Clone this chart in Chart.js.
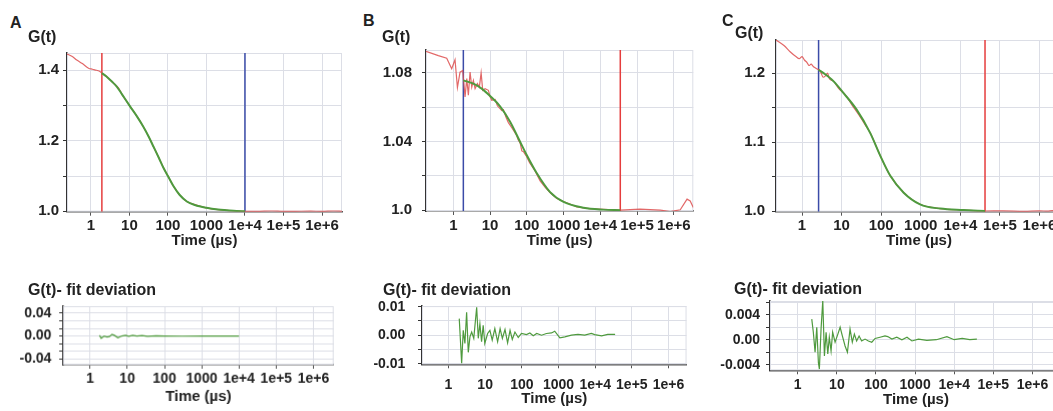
<!DOCTYPE html>
<html>
<head>
<meta charset="utf-8">
<script src="https://cdn.jsdelivr.net/npm/chart.js@4.4.1/dist/chart.umd.min.js"></script>
<style>
  html, body { margin: 0; padding: 0; background: #fff; }
  body { width: 1053px; height: 411px; overflow: hidden; position: relative;
         font-family: 'Liberation Sans', Arial, sans-serif; color: #222; }
  .box { position: absolute; }
  .lbl { position: absolute; font-weight: bold; line-height: 1; white-space: nowrap; z-index: 2; font-size: 16px; }
</style>
</head>
<body>
<div class="lbl" style="left:10px;top:14.7px">A</div>
<div class="lbl" style="left:28px;top:29px">G(t)</div>
<div class="lbl" style="left:363px;top:13px">B</div>
<div class="lbl" style="left:382px;top:29px">G(t)</div>
<div class="lbl" style="left:722px;top:13px">C</div>
<div class="lbl" style="left:735px;top:24.6px">G(t)</div>
<div class="lbl" style="left:28px;top:282px">G(t)- fit deviation</div>
<div class="lbl" style="left:383px;top:282px">G(t)- fit deviation</div>
<div class="lbl" style="left:734px;top:281px">G(t)- fit deviation</div>

<div class="box" style="left:16.7px;top:33px;width:331px;height:217px"><canvas id="mainA"></canvas></div>
<div class="box" style="left:376px;top:30px;width:323.3px;height:220px"><canvas id="mainB"></canvas></div>
<div class="box" style="left:726px;top:20px;width:342px;height:230px"><canvas id="mainC"></canvas></div>
<div class="box" style="left:13.3px;top:286px;width:325.7px;height:118.5px"><canvas id="resA"></canvas></div>
<div class="box" style="left:371.7px;top:285px;width:321px;height:123px"><canvas id="resB"></canvas></div>
<div class="box" style="left:720px;top:280.7px;width:348px;height:127.8px"><canvas id="resC"></canvas></div>

<script>
// shared time axis (µs, log)
const X_TICKS = [1, 10, 100, 1000, 1e4, 1e5, 1e6];
const X_LABELS = ['1', '10', '100', '1000', '1e+4', '1e+5', '1e+6'];

// ---- panel A ----
const A_DATA_T = [0.24, 0.33, 0.43, 0.6, 0.87, 1.1, 1.4, 1.75, 1.93, 2.5, 3.5, 4.7, 5.3, 6.5, 10.5, 16, 23, 32, 42, 58, 77, 105, 140, 200, 310, 500, 1000, 2000, 3400, 1e4, 2e4, 5e4, 1e5, 2e5, 5e5, 1e6, 2e6, 3.3e6];
const A_DATA_G = [1.446, 1.439, 1.429, 1.419, 1.406, 1.403, 1.400, 1.396, 1.392, 1.383, 1.368, 1.355, 1.349, 1.331, 1.297, 1.268, 1.240, 1.211, 1.184, 1.152, 1.123, 1.096, 1.071, 1.047, 1.028, 1.019, 1.010, 1.005, 1.003, 1.000, 1.000, 1.001, 0.9998, 1.000, 1.0005, 1.000, 1.001, 1.000];
const A_FIT_T = [1.93, 2.5, 3.5, 4.7, 6.5, 10.5, 16, 23, 32, 42, 58, 77, 105, 140, 200, 310, 500, 1000, 2000, 3400, 6000, 1e4];
const A_FIT_G = [1.392, 1.383, 1.368, 1.354, 1.331, 1.297, 1.268, 1.240, 1.211, 1.184, 1.152, 1.123, 1.096, 1.071, 1.047, 1.028, 1.018, 1.010, 1.005, 1.003, 1.001, 1.000];
const A_CURSOR_RED = 1.93;
const A_CURSOR_BLUE = 1e4;
const A_Y_TICKS = [1.0, 1.1, 1.2, 1.3, 1.4];
const A_Y_LABELS = ['1.0', '', '1.2', '', '1.4'];

// ---- panel B ----
const B_DATA_T = [0.18, 0.39, 0.66, 0.9, 1.11, 1.29, 1.52, 1.8, 2.08, 2.32, 2.56, 2.85, 3.17, 3.51, 3.9, 4.5, 5.1, 5.7, 6.3, 7.3, 9.0, 10, 11.1, 13.7, 15.8, 20.8, 23, 27.3, 31.5, 39, 53, 58, 66, 73, 81, 95, 120, 168, 230, 320, 450, 656, 1000, 2300, 5000, 1.2e4, 3.5e4, 1.2e5, 4.3e5, 8e5, 1.5e6, 2.3e6, 2.8e6, 3.4e6];
const B_DATA_G = [1.0925, 1.0900, 1.0885, 1.0824, 1.0876, 1.0714, 1.0804, 1.0814, 1.0660, 1.0766, 1.0670, 1.0804, 1.0717, 1.0756, 1.0708, 1.0737, 1.0717, 1.0800, 1.0698, 1.0708, 1.0698, 1.0660, 1.0640, 1.0645, 1.0608, 1.0580, 1.0585, 1.0540, 1.0510, 1.0480, 1.0435, 1.0410, 1.0390, 1.0345, 1.0340, 1.0318, 1.0275, 1.0228, 1.0170, 1.0132, 1.0098, 1.0068, 1.0050, 1.0019, 1.0009, 1.0005, 1.0000, 1.0006, 1.0000, 0.9992, 1.0002, 1.0064, 1.0054, 1.0016];
const B_FIT_T = [1.87, 3.5, 5.9, 10, 18.7, 35, 65, 100, 187, 430, 1000, 3500, 1.2e4, 3.5e4];
const B_FIT_G = [1.0756, 1.0737, 1.0708, 1.0665, 1.0605, 1.0515, 1.0400, 1.0320, 1.0215, 1.0105, 1.0048, 1.0014, 1.0003, 1.0000];
const B_CURSOR_BLUE = 1.87;
const B_CURSOR_RED = 3.5e4;
const B_Y_TICKS = [1.0, 1.02, 1.04, 1.06, 1.08];
const B_Y_LABELS = ['1.0', '', '1.04', '', '1.08'];

// ---- panel C ----
const C_DATA_T = [0.22, 0.35, 0.5, 0.7, 0.85, 1.0, 1.15, 1.35, 1.5, 1.7, 1.9, 2.1, 2.4, 2.62, 3.0, 3.4, 3.9, 4.4, 4.9, 6.3, 8.4, 12.4, 18.2, 26.8, 39.5, 53, 95, 170, 370, 960, 3100, 1.2e4, 4.2e4, 1.2e5, 4e5, 1e6, 1.6e6, 2.1e6, 3e6];
const C_DATA_G = [1.248, 1.240, 1.231, 1.224, 1.221, 1.224, 1.219, 1.215, 1.211, 1.213, 1.210, 1.208, 1.206, 1.205, 1.201, 1.194, 1.196, 1.200, 1.192, 1.188, 1.178, 1.1686, 1.154, 1.140, 1.125, 1.113, 1.080, 1.051, 1.0266, 1.0097, 1.0035, 1.0014, 1.000, 1.0003, 0.9996, 1.0003, 0.9998, 1.0005, 1.000];
const C_FIT_T = [2.62, 3.5, 6.3, 11.2, 24, 53, 95, 170, 370, 960, 3100, 1.2e4, 4.2e4];
const C_FIT_G = [1.2048, 1.200, 1.188, 1.171, 1.147, 1.113, 1.080, 1.051, 1.0266, 1.0097, 1.0035, 1.0014, 1.000];
const C_CURSOR_BLUE = 2.62;
const C_CURSOR_RED = 4.2e4;
const C_Y_TICKS = [1.0, 1.05, 1.1, 1.15, 1.2];
const C_Y_LABELS = ['1.0', '', '1.1', '', '1.2'];

// ---- fit deviations ----
const RA_T = [1.8, 2.0, 2.4, 2.9, 3.4, 3.9, 4.5, 5.6, 7.1, 9, 11, 14, 18, 25, 35, 60, 100, 300, 1000, 3000, 1e4];
const RA_V = [0.0012, -0.004, 0, -0.0017, -0.0005, 0.003, 0.0012, -0.0029, 0, 0.0012, -0.0006, 0.0012, 0, 0.0008, -0.0004, 0.0002, 0, -0.0003, 0, 0, 0];
const RA_Y_TICKS = [-0.04, -0.0267, -0.0133, 0, 0.0133, 0.0267, 0.04];
const RA_Y_LABELS = ['-0.04', '', '', '0.00', '', '', '0.04'];

const RB_T = [1.97, 2.29, 2.53, 2.81, 3.13, 3.47, 3.85, 4.3, 4.9, 5.88, 6.5, 7.2, 8.0, 8.85, 9.8, 11.7, 13.5, 15.6, 18.4, 21.9, 25.6, 29.5, 34.8, 41, 47.8, 55, 65, 80, 98, 134, 166, 205, 255, 345, 470, 645, 790, 1090, 1490, 2260, 3400, 5180, 7890, 9700, 1.5e4, 2.2e4, 3.5e4];
const RB_V = [0.0058, -0.0098, 0.0017, -0.0029, 0.0080, -0.0060, -0.0006, 0.0011, -0.0011, 0.0098, -0.0011, 0.0040, -0.0023, 0.0035, -0.0029, 0.0006, 0.0017, -0.0017, 0.0023, -0.0023, 0.0023, -0.0011, 0.0020, -0.0027, 0.0017, -0.0015, 0.0011, -0.0008, 0.0006, 0.0002, 0.0008, -0.0002, 0.0006, 0, 0.0006, 0.0008, 0.0014, -0.0009, -0.0006, 0, 0.0003, 0, 0.0006, 0.0002, -0.0002, 0.0003, 0.0003];
const RB_Y_TICKS = [-0.01, -0.005, 0, 0.005, 0.01];
const RB_Y_LABELS = ['-0.01', '', '0.00', '', '0.01'];

const RC_T = [2.28, 2.5, 2.77, 3.06, 3.37, 3.57, 3.94, 4.36, 4.8, 5.3, 5.85, 6.4, 7.1, 7.8, 9, 10.6, 12.1, 13.8, 16.2, 18.6, 21.7, 24.8, 28, 32, 37, 43, 52.5, 64, 78, 95, 127, 170, 200, 255, 340, 460, 620, 830, 1220, 2000, 3500, 6500, 1e4, 1.6e4, 2.5e4, 3.8e4];
const RC_V = [0.0033, 0.0012, -0.0020, 0.0020, -0.0037, -0.0047, 0.0017, 0.0063, -0.0026, 0.0012, -0.0023, 0.0004, -0.0018, 0.0012, -0.0004, 0.0009, 0.0020, 0.0006, -0.0010, -0.0020, 0.0017, -0.0004, 0.0009, -0.0002, 0.0006, -0.0002, 0.0001, -0.0002, -0.0004, 0.0002, 0.0004, 0.0006, 0.0005, 0.0001, 0.0004, 0, 0.0004, -0.0002, 0.0001, -0.0001, 0, 0.0005, 0, 0.0002, 0, 0.0001];
const RC_Y_TICKS = [-0.004, -0.002, 0, 0.002, 0.004, 0.006];
const RC_Y_LABELS = ['-0.004', '', '0.00', '', '0.004', ''];

// ---- styling ----
const RED_DATA = 'rgba(221,78,78,0.85)';
const GREEN = '#4f9a3e';
const BLUE = '#3b4ba8';
const RED_CURSOR = '#e53d3d';
const GRID = '#dcdee6';
const INK = '#222';
Chart.defaults.font.family = "'Liberation Sans', Arial, sans-serif";
Chart.defaults.color = INK;

const pts = (t, v) => t.map((x, i) => ({ x, y: v[i] }));

// light frame on top/right, like the original plot box
const frame = {
  id: 'frame',
  beforeDatasetsDraw(chart) {
    const a = chart.chartArea, c = chart.ctx;
    c.save();
    c.strokeStyle = GRID;
    c.lineWidth = 1;
    c.strokeRect(a.left + 0.5, a.top + 0.5, a.right - a.left - 1, a.bottom - a.top - 1);
    c.restore();
  }
};

function plot(id, o) {
  new Chart(document.getElementById(id), {
    type: 'line',
    data: { datasets: o.datasets },
    options: {
      responsive: true,
      maintainAspectRatio: false,
      animation: false,
      layout: { padding: { top: 20, right: 6, left: 0, bottom: 0 } },
      plugins: { legend: { display: false }, tooltip: { enabled: false } },
      elements: { point: { radius: 0 } },
      scales: {
        x: {
          type: 'logarithmic',
          min: o.xMin, max: o.xMax,
          afterBuildTicks: (s) => { s.ticks = X_TICKS.map(v => ({ value: v })); },
          afterFit: (s) => { s.height = o.xH; },
          ticks: {
            autoSkip: false, maxRotation: 0, padding: o.xPad, color: INK,
            font: { size: o.fs, weight: 'bold' },
            callback: (v, i) => X_LABELS[i],
          },
          grid: { color: GRID, tickColor: '#555', tickLength: 4 },
          border: { color: '#555', width: 1.5 },
          title: { display: true, text: 'Time (µs)', padding: 0, color: INK, font: { size: 15, weight: 'bold' } },
        },
        y: {
          min: o.yMin, max: o.yMax,
          afterBuildTicks: (s) => { s.ticks = o.yTicks.map(v => ({ value: v })); },
          afterFit: (s) => { s.width = 50; },
          ticks: {
            autoSkip: false, padding: o.yPad, color: INK,
            font: { size: o.fs, weight: 'bold' },
            callback: (v, i) => o.yLabels[i],
          },
          grid: { color: GRID, tickColor: '#333', tickLength: 4 },
          border: { color: '#333', width: 1.5 },
        },
      },
    },
    plugins: [frame],
  });
}

function mainSets(dataT, dataG, fitT, fitG, cursors, yMin, yMax, smooth) {
  return [
    { data: pts(fitT, fitG), borderColor: GREEN, borderWidth: 2, cubicInterpolationMode: 'monotone' },
    { data: pts(dataT, dataG), borderColor: RED_DATA, borderWidth: 1.2,
      cubicInterpolationMode: smooth ? 'monotone' : 'default', tension: 0 },
    ...cursors.map(c => ({ data: pts([c.t, c.t], [yMin, yMax]), borderColor: c.color, borderWidth: 1.5 })),
  ];
}

function resSets(t, v) {
  return [{ data: pts(t, v), borderColor: GREEN, borderWidth: 1.2, tension: 0 }];
}

// ---- main correlation plots ----
plot('mainA', {
  xMin: 0.24, xMax: 3.3e6, yMin: 0.999, yMax: 1.449,
  yTicks: A_Y_TICKS, yLabels: A_Y_LABELS, fs: 15, xH: 38.3, xPad: 1, yPad: 4,
  datasets: mainSets(A_DATA_T, A_DATA_G, A_FIT_T, A_FIT_G,
    [{ t: A_CURSOR_RED, color: RED_CURSOR }, { t: A_CURSOR_BLUE, color: BLUE }], 0.999, 1.449, true),
});
plot('mainB', {
  xMin: 0.18, xMax: 3.4e6, yMin: 0.9995, yMax: 1.0933,
  yTicks: B_Y_TICKS, yLabels: B_Y_LABELS, fs: 15, xH: 39, xPad: 1.7, yPad: 10,
  datasets: mainSets(B_DATA_T, B_DATA_G, B_FIT_T, B_FIT_G,
    [{ t: B_CURSOR_BLUE, color: BLUE }, { t: B_CURSOR_RED, color: RED_CURSOR }], 0.9995, 1.0933, false),
});
plot('mainC', {
  xMin: 0.22, xMax: 3.7e6, yMin: 0.999, yMax: 1.248,
  yTicks: C_Y_TICKS, yLabels: C_Y_LABELS, fs: 15, xH: 38.3, xPad: 1, yPad: 7,
  datasets: mainSets(C_DATA_T, C_DATA_G, C_FIT_T, C_FIT_G,
    [{ t: C_CURSOR_BLUE, color: BLUE }, { t: C_CURSOR_RED, color: RED_CURSOR }], 0.999, 1.248, true),
});

// ---- fit deviation plots ----
plot('resA', {
  xMin: 0.19, xMax: 3.5e6, yMin: -0.05, yMax: 0.052,
  yTicks: RA_Y_TICKS, yLabels: RA_Y_LABELS, fs: 14, xH: 40.5, xPad: 1.9, yPad: 7.6,
  datasets: resSets(RA_T, RA_V),
});
plot('resB', {
  xMin: 0.19, xMax: 3.1e6, yMin: -0.0102, yMax: 0.0102,
  yTicks: RB_Y_TICKS, yLabels: RB_Y_LABELS, fs: 14, xH: 43.7, xPad: 8.3, yPad: 12.7,
  datasets: resSets(RB_T, RB_V),
});
plot('resC', {
  xMin: 0.195, xMax: 5.7e6, yMin: -0.0049, yMax: 0.0062,
  yTicks: RC_Y_TICKS, yLabels: RC_Y_LABELS, fs: 14, xH: 38.5, xPad: 2.6, yPad: 6,
  datasets: resSets(RC_T, RC_V),
});
</script>
</body>
</html>
